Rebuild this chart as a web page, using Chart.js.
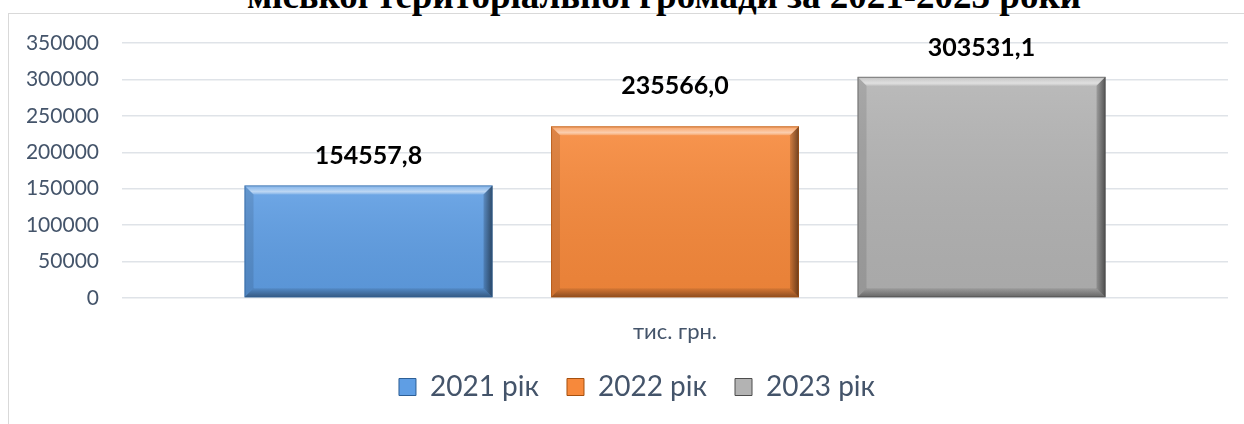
<!DOCTYPE html>
<html>
<head>
<meta charset="utf-8">
<script src="https://cdn.jsdelivr.net/npm/chart.js@4.4.1/dist/chart.umd.min.js"></script>
<style>
  html, body { margin: 0; padding: 0; background: #ffffff; overflow: hidden; }
  #wrap { position: relative; width: 1244px; height: 424px; overflow: hidden; }
  #frame { position: absolute; left: 8px; top: 13px; width: 1400px; height: 600px;
           border-left: 1px solid #d9d9d9; border-top: 1px solid #d9d9d9; }
  #title { position: absolute; left: 0; width: 1328px; text-align: center; top: -23px;
           font-family: "Liberation Serif", "Times New Roman", serif; font-weight: bold;
           font-size: 37px; line-height: 37px; color: #000; white-space: nowrap; }
  #c { position: absolute; left: 0; top: 0; }
</style>
</head>
<body>
<div id="wrap">
  <div id="frame"></div>
  <div id="title">міської територіальної громади за 2021-2023 роки</div>
  <canvas id="c" width="1244" height="424"></canvas>
</div>
<script>
// ---- data ----
const categories = ['тис. грн.'];
const seriesNames = ['2021 рік', '2022 рік', '2023 рік'];
const values2021 = [154557.8];
const values2022 = [235566.0];
const values2023 = [303531.1];
const yTickValues = [0, 50000, 100000, 150000, 200000, 250000, 300000, 350000];

// ---- styles ----
const baseColors = ['#5f9ee4', '#f7893b', '#b3b3b3'];
const edgeColors = ['#2d5f96', '#a5500f', '#4d4d4d'];
const labelLift = [29, 40, 29];
const FONT = 'Lato, "Open Sans", sans-serif';

const bevelPlugin = {
  id: 'bevel',
  afterDatasetsDraw(chart) {
    const ctx = chart.ctx;
    chart.data.datasets.forEach((ds, di) => {
      const meta = chart.getDatasetMeta(di);
      if (meta.hidden) return;
      meta.data.forEach((el) => {
        const p = el.getProps(['x', 'y', 'base', 'width'], true);
        const l = p.x - p.width / 2, r = p.x + p.width / 2, t = p.y, b = p.base;
        const bv = 9;
        ctx.save();
        let g = ctx.createLinearGradient(0, t, 0, b);
        g.addColorStop(0, 'rgba(255,255,255,0.10)');
        g.addColorStop(1, 'rgba(0,0,0,0.06)');
        ctx.fillStyle = g;
        ctx.fillRect(l, t, r - l, b - t);
        g = ctx.createLinearGradient(0, t, 0, t + bv);
        g.addColorStop(0, 'rgba(255,255,255,0.10)');
        g.addColorStop(0.7, 'rgba(255,255,255,0.55)');
        g.addColorStop(1, 'rgba(255,255,255,0.15)');
        ctx.fillStyle = g;
        ctx.beginPath();
        ctx.moveTo(l, t); ctx.lineTo(r, t); ctx.lineTo(r - bv, t + bv); ctx.lineTo(l + bv, t + bv); ctx.closePath();
        ctx.fill();
        ctx.fillStyle = 'rgba(0,0,0,0.10)';
        ctx.beginPath();
        ctx.moveTo(l, t); ctx.lineTo(l + bv, t + bv); ctx.lineTo(l + bv, b - bv); ctx.lineTo(l, b); ctx.closePath();
        ctx.fill();
        g = ctx.createLinearGradient(r - bv, 0, r, 0);
        g.addColorStop(0, 'rgba(0,0,0,0.15)');
        g.addColorStop(1, 'rgba(0,0,0,0.55)');
        ctx.fillStyle = g;
        ctx.beginPath();
        ctx.moveTo(r, t); ctx.lineTo(r, b); ctx.lineTo(r - bv, b - bv); ctx.lineTo(r - bv, t + bv); ctx.closePath();
        ctx.fill();
        g = ctx.createLinearGradient(0, b - bv, 0, b);
        g.addColorStop(0, 'rgba(0,0,0,0.08)');
        g.addColorStop(1, 'rgba(0,0,0,0.40)');
        ctx.fillStyle = g;
        ctx.beginPath();
        ctx.moveTo(l, b); ctx.lineTo(r, b); ctx.lineTo(r - bv, b - bv); ctx.lineTo(l + bv, b - bv); ctx.closePath();
        ctx.fill();
        ctx.strokeStyle = edgeColors[di];
        ctx.globalAlpha = 0.6;
        ctx.lineWidth = 1;
        ctx.strokeRect(l + 0.5, t + 0.5, r - l - 1, b - t - 1);
        ctx.restore();
      });
    });
  }
};

const labelPlugin = {
  id: 'valueLabels',
  afterDatasetsDraw(chart) {
    const ctx = chart.ctx;
    ctx.save();
    ctx.font = 'bold 25px ' + FONT;
    ctx.fillStyle = '#000000';
    ctx.textAlign = 'center';
    ctx.textBaseline = 'middle';
    chart.data.datasets.forEach((ds, di) => {
      const meta = chart.getDatasetMeta(di);
      meta.data.forEach((el, i) => {
        const v = ds.data[i];
        const txt = v.toFixed(1).replace('.', ',');
        ctx.fillText(txt, el.x, el.y - labelLift[di]);
      });
    });
    ctx.restore();
  }
};

// shifts the bottom legend box so it is centred like the original
const legendShift = {
  id: 'legendShift',
  afterLayout(chart) {
    if (chart.legend) { chart.legend.left += 46; }
  }
};

const seriesValues = [values2021, values2022, values2023];

new Chart(document.getElementById('c'), {
  type: 'bar',
  data: {
    labels: categories,
    datasets: seriesNames.map((name, i) => ({
      label: name,
      data: seriesValues[i],
      backgroundColor: baseColors[i],
      borderColor: edgeColors[i],
      borderWidth: 0,
      categoryPercentage: 0.8314,
      barPercentage: 0.809
    }))
  },
  options: {
    responsive: false,
    animation: false,
    devicePixelRatio: 1,
    layout: { padding: { left: 0, right: 16, top: 43, bottom: 13 } },
    plugins: {
      title: { display: false },
      tooltip: { enabled: false },
      legend: {
        position: 'bottom',
        labels: {
          font: { family: FONT, size: 28 },
          color: '#44546A',
          boxWidth: 17,
          boxHeight: 17,
          padding: 28,
          generateLabels(chart) {
            return chart.data.datasets.map((ds, i) => ({
              text: ds.label,
              fillStyle: baseColors[i],
              strokeStyle: edgeColors[i],
              lineWidth: 1,
              fontColor: '#44546A',
              datasetIndex: i,
              hidden: false
            }));
          }
        }
      }
    },
    scales: {
      x: {
        grid: { display: false, drawTicks: false },
        border: { display: false },
        ticks: { font: { family: FONT, size: 22 }, color: '#44546A', padding: 21 },
        afterFit(scale) { scale.height = 47; }
      },
      y: {
        min: 0,
        max: 350000,
        afterBuildTicks(scale) { scale.ticks = yTickValues.map(v => ({ value: v })); },
        grid: { color: '#dfe3e8', lineWidth: 1.5, drawTicks: false },
        border: { display: false },
        ticks: {
          font: { family: FONT, size: 21 }, color: '#44546A', padding: 23,
          callback: (v) => String(v)
        },
        afterFit(scale) { scale.width = 122; }
      }
    }
  },
  plugins: [bevelPlugin, labelPlugin, legendShift]
});
</script>
</body>
</html>
